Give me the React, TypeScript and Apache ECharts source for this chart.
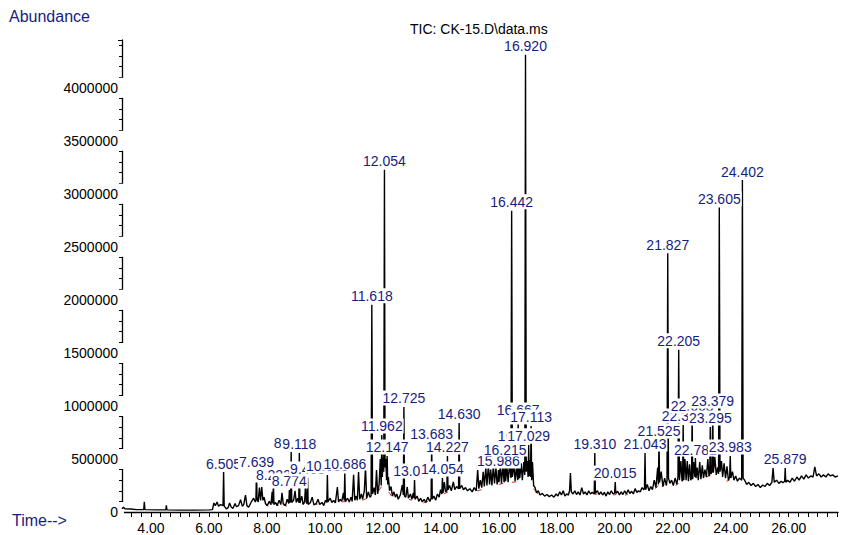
import { useEffect, useRef } from "react";
import * as echarts from "echarts";

// Retention times (min) of the integrated peaks and their apex abundance
const PEAK_TIMES = [
  6.505, 7.639, 8.223, 8.774, 8.836, 9.118, 9.403, 10.085, 10.686, 11.618,
  11.962, 12.054, 12.147, 12.725, 13.092, 13.683, 14.054, 14.227, 14.63,
  15.986, 16.215, 16.442, 16.667, 16.703, 16.92, 17.029, 17.113, 19.31,
  20.015, 21.043, 21.525, 21.827, 22.205, 22.359, 22.668, 22.781, 23.295,
  23.379, 23.605, 23.983, 24.402, 25.879,
];
const PEAK_HEIGHTS = [
  377000, 387000, 264000, 208000, 566000, 557000, 321000, 349000, 377000, 1953000,
  726000, 3226000, 528000, 991000, 302000, 651000, 321000, 528000, 840000,
  396000, 509000, 2840000, 877000, 632000, 4310000, 632000, 811000, 557000,
  283000, 557000, 679000, 2440000, 1530000, 821000, 915000, 509000, 802000,
  962000, 2870000, 528000, 3130000, 415000,
];
const PEAK_LABELS = PEAK_TIMES.map((t) => t.toFixed(3));

// Total ion current between the labelled apexes: [time (min), abundance]
const BASE_TRACE: [number, number][] = [
  [3.0, 30000], [3.05, 45000], [3.1, 30000], [3.3, 28000], [3.5, 22000], [3.75, 22000],
  [3.77, 95000], [3.79, 22000], [4.2, 20000], [4.51, 20000], [4.53, 62000], [4.55, 20000],
  [5.0, 18000], [5.5, 18000], [6.0, 20000], [6.12, 22000],
  [6.17, 85000], [6.22, 60000], [6.28, 95000], [6.33, 55000], [6.4, 70000], [6.485, 60000],
  [6.525, 55000], [6.6, 30000], [6.66, 40000], [6.71, 85000], [6.77, 45000], [6.83, 35000],
  [6.9, 80000], [6.95, 50000], [7.02, 60000], [7.09, 115000], [7.15, 55000], [7.2, 70000],
  [7.26, 160000], [7.31, 60000], [7.37, 45000], [7.45, 90000], [7.54, 130000], [7.6, 95000],
  [7.62, 110000], [7.66, 120000], [7.7, 95000], [7.74, 230000], [7.78, 110000], [7.82, 236000],
  [7.86, 110000], [7.9, 140000], [7.95, 80000], [8.01, 60000], [8.08, 100000], [8.14, 70000],
  [8.18, 190000], [8.203, 80000], [8.243, 70000], [8.3, 90000], [8.35, 60000], [8.42, 110000],
  [8.48, 70000], [8.52, 180000], [8.56, 80000], [8.64, 60000], [8.7, 120000], [8.754, 80000],
  [8.794, 90000], [8.816, 100000], [8.856, 90000], [8.92, 110000], [8.97, 200000], [9.01, 90000],
  [9.06, 130000], [9.098, 90000], [9.138, 85000], [9.2, 150000], [9.25, 70000], [9.3, 100000],
  [9.33, 250000], [9.36, 90000], [9.383, 80000], [9.423, 70000], [9.5, 90000], [9.56, 140000],
  [9.62, 70000], [9.7, 80000], [9.76, 120000], [9.82, 70000], [9.9, 90000], [9.96, 60000],
  [10.02, 110000], [10.065, 90000], [10.105, 95000], [10.18, 130000], [10.24, 90000],
  [10.3, 110000], [10.36, 85000], [10.43, 236000], [10.47, 95000], [10.53, 120000],
  [10.58, 100000], [10.64, 180000], [10.666, 110000], [10.706, 100000], [10.78, 130000],
  [10.84, 95000], [10.9, 140000], [10.94, 100000], [10.99, 350000], [11.03, 110000],
  [11.08, 150000], [11.12, 110000], [11.16, 377000], [11.2, 120000], [11.26, 170000],
  [11.3, 120000], [11.36, 200000], [11.4, 425000], [11.44, 130000], [11.5, 190000],
  [11.55, 140000], [11.593, 150000], [11.643, 170000], [11.7, 230000], [11.74, 160000],
  [11.78, 396000], [11.82, 170000], [11.87, 260000], [11.91, 500000], [11.942, 250000],
  [11.982, 330000], [12.0, 510000], [12.03, 380000], [12.075, 420000], [12.1, 500000],
  [12.127, 300000], [12.167, 260000], [12.19, 330000], [12.23, 200000], [12.28, 240000],
  [12.33, 150000], [12.38, 190000], [12.43, 140000], [12.48, 170000], [12.53, 120000],
  [12.6, 160000], [12.67, 255000], [12.705, 160000], [12.745, 150000], [12.79, 140000],
  [12.84, 236000], [12.88, 130000], [12.95, 170000], [13.0, 120000], [13.05, 180000],
  [13.072, 130000], [13.112, 120000], [13.18, 150000], [13.24, 100000], [13.3, 130000],
  [13.36, 95000], [13.42, 120000], [13.48, 90000], [13.55, 140000], [13.62, 100000],
  [13.663, 130000], [13.703, 120000], [13.76, 150000], [13.82, 110000], [13.88, 170000],
  [13.94, 140000], [13.99, 210000], [14.034, 170000], [14.074, 180000], [14.12, 283000],
  [14.16, 190000], [14.207, 200000], [14.247, 210000], [14.3, 250000], [14.36, 200000],
  [14.43, 283000], [14.48, 210000], [14.54, 240000], [14.61, 220000], [14.65, 220000],
  [14.72, 250000], [14.78, 210000], [14.85, 230000], [14.92, 200000], [15.0, 220000],
  [15.08, 190000], [15.15, 230000], [15.22, 200000], [15.27, 396000], [15.31, 220000],
  [15.36, 300000], [15.41, 230000], [15.46, 380000], [15.5, 240000], [15.55, 420000],
  [15.59, 250000], [15.64, 450000], [15.68, 260000], [15.72, 400000], [15.76, 250000],
  [15.81, 440000], [15.85, 270000], [15.9, 420000], [15.94, 260000], [15.966, 300000],
  [16.006, 280000], [16.05, 440000], [16.09, 270000], [16.14, 450000], [16.18, 280000],
  [16.195, 300000], [16.235, 290000], [16.28, 430000], [16.32, 280000], [16.37, 460000],
  [16.417, 320000], [16.467, 330000], [16.52, 450000], [16.56, 290000], [16.61, 430000],
  [16.647, 300000], [16.683, 310000], [16.723, 320000], [16.77, 460000], [16.81, 300000],
  [16.86, 470000], [16.895, 350000], [16.945, 380000], [16.98, 480000], [17.009, 330000],
  [17.05, 340000], [17.07, 490000], [17.093, 330000], [17.133, 300000], [17.16, 470000],
  [17.2, 250000], [17.25, 230000], [17.3, 180000], [17.36, 200000], [17.42, 160000],
  [17.5, 175000], [17.58, 150000], [17.66, 165000], [17.74, 145000], [17.82, 160000],
  [17.9, 140000], [17.98, 170000], [18.04, 150000], [18.1, 190000], [18.16, 160000],
  [18.22, 200000], [18.28, 150000], [18.34, 170000], [18.4, 160000], [18.44, 200000],
  [18.47, 368000], [18.5, 190000], [18.56, 170000], [18.62, 200000], [18.68, 165000],
  [18.74, 190000], [18.8, 160000], [18.86, 230000], [18.92, 170000], [18.98, 190000],
  [19.04, 160000], [19.1, 200000], [19.16, 170000], [19.22, 185000], [19.29, 170000],
  [19.33, 175000], [19.4, 200000], [19.46, 165000], [19.52, 190000], [19.58, 160000],
  [19.64, 185000], [19.7, 150000], [19.76, 190000], [19.82, 165000], [19.88, 200000],
  [19.94, 170000], [19.995, 180000], [20.035, 175000], [20.1, 195000], [20.16, 160000],
  [20.22, 190000], [20.28, 165000], [20.34, 200000], [20.4, 170000], [20.46, 210000],
  [20.52, 175000], [20.58, 195000], [20.64, 170000], [20.7, 220000], [20.76, 185000],
  [20.82, 200000], [20.88, 190000], [20.94, 230000], [21.0, 210000], [21.023, 220000],
  [21.063, 210000], [21.12, 260000], [21.18, 200000], [21.24, 240000], [21.3, 210000],
  [21.36, 300000], [21.42, 230000], [21.48, 420000], [21.505, 260000], [21.545, 280000],
  [21.6, 380000], [21.66, 240000], [21.72, 320000], [21.78, 250000], [21.802, 300000],
  [21.852, 320000], [21.9, 270000], [21.96, 300000], [22.02, 250000], [22.08, 320000],
  [22.14, 260000], [22.18, 330000], [22.23, 300000], [22.28, 480000], [22.32, 290000],
  [22.339, 300000], [22.379, 300000], [22.42, 500000], [22.46, 300000], [22.5, 480000],
  [22.54, 290000], [22.58, 450000], [22.62, 300000], [22.648, 320000], [22.688, 310000],
  [22.72, 470000], [22.761, 330000], [22.801, 320000], [22.84, 420000], [22.88, 300000],
  [22.93, 470000], [22.97, 310000], [23.02, 440000], [23.06, 320000], [23.11, 400000],
  [23.16, 330000], [23.21, 500000], [23.25, 340000], [23.275, 360000], [23.315, 360000],
  [23.359, 380000], [23.4, 370000], [23.45, 520000], [23.5, 350000], [23.55, 420000],
  [23.58, 360000], [23.63, 380000], [23.68, 480000], [23.72, 330000], [23.77, 460000],
  [23.82, 320000], [23.87, 430000], [23.92, 300000], [23.963, 330000], [24.003, 320000],
  [24.06, 380000], [24.11, 300000], [24.17, 340000], [24.23, 290000], [24.3, 320000],
  [24.377, 300000], [24.427, 320000], [24.48, 300000], [24.55, 260000], [24.62, 280000],
  [24.7, 250000], [24.78, 270000], [24.86, 240000], [24.94, 260000], [25.02, 230000],
  [25.1, 255000], [25.18, 240000], [25.26, 270000], [25.34, 250000], [25.42, 280000],
  [25.46, 415000], [25.5, 280000], [25.58, 300000], [25.66, 270000], [25.74, 290000],
  [25.8, 275000], [25.859, 290000], [25.899, 280000], [25.96, 300000], [26.04, 280000],
  [26.12, 320000], [26.2, 290000], [26.28, 330000], [26.36, 300000], [26.44, 340000],
  [26.52, 310000], [26.6, 350000], [26.68, 320000], [26.76, 340000], [26.84, 330000],
  [26.9, 425000], [26.96, 340000], [27.04, 360000], [27.12, 330000], [27.2, 350000],
  [27.28, 330000], [27.36, 360000], [27.44, 340000], [27.52, 350000], [27.6, 330000],
  [27.7, 340000],
];

// Integration baseline segments under the valleys: [start, v, end, v]
const BASELINE_SEGMENTS: [number, number, number, number][] = [
  [6.58, 30000, 6.66, 35000], [7.95, 70000, 8.05, 55000], [8.3, 80000, 8.4, 65000],
  [8.55, 70000, 8.68, 55000], [9.22, 80000, 9.32, 85000], [9.6, 65000, 9.75, 75000],
  [10.6, 95000, 10.75, 100000], [11.3, 110000, 11.45, 130000], [11.86, 200000, 11.95, 240000],
  [12.2, 190000, 12.3, 150000], [12.9, 120000, 13.0, 110000], [13.4, 85000, 13.55, 100000],
  [14.1, 170000, 14.25, 190000], [15.25, 200000, 15.4, 210000], [16.0, 260000, 16.15, 270000],
  [16.45, 280000, 16.6, 285000], [17.2, 220000, 17.35, 170000], [19.3, 165000, 19.4, 170000],
  [19.95, 160000, 20.05, 165000], [20.35, 160000, 20.45, 165000], [21.4, 220000, 21.5, 250000],
  [21.62, 240000, 21.72, 260000], [22.1, 250000, 22.2, 270000], [23.15, 330000, 23.3, 345000],
  [23.42, 420000, 23.5, 440000], [23.85, 290000, 23.95, 300000], [25.95, 290000, 26.02, 285000],
];

const X_TICK_LABELS = ["4.00", "6.00", "8.00", "10.00", "12.00", "14.00", "16.00", "18.00", "20.00", "22.00", "24.00", "26.00"];
const Y_TICK_LABELS = ["0", "500000", "1000000", "1500000", "2000000", "2500000", "3000000", "3500000", "4000000"];

const FONT = '"Liberation Sans", Arial, sans-serif';
const LABEL_BLUE = "#161d80";

export default function App() {
  const ref = useRef<HTMLDivElement>(null);

  useEffect(() => {
    if (!ref.current) return;
    const chart = echarts.init(ref.current, undefined, { renderer: "svg" });

    const trace = [
      ...BASE_TRACE,
      ...PEAK_TIMES.map((t, i) => [t, PEAK_HEIGHTS[i]] as [number, number]),
    ].sort((a, b) => a[0] - b[0]);

    const baseline: (number | string)[][] = [];
    BASELINE_SEGMENTS.forEach(([t0, v0, t1, v1]) => {
      baseline.push([t0, v0], [t1, v1], [t1, "-"]);
    });

    chart.setOption({
      animation: false,
      title: {
        text: "TIC: CK-15.D\\data.ms",
        left: 410,
        top: 22,
        padding: 0,
        textStyle: { fontFamily: FONT, fontSize: 14, fontWeight: "normal", color: "#000" },
      },
      graphic: [
        { type: "text", left: 9, top: 8, style: { text: "Abundance", fill: LABEL_BLUE, font: `16px ${FONT}` } },
        { type: "text", left: 12, top: 512, style: { text: "Time-->", fill: LABEL_BLUE, font: `16px ${FONT}` } },
      ],
      grid: { left: 122, right: 3, top: 40, bottom: 23, containLabel: false },
      xAxis: {
        type: "value",
        min: 3,
        max: 27.7,
        interval: 1 / 3,
        splitLine: { show: false },
        axisLine: { onZero: false, lineStyle: { color: "#000", width: 1.3 } },
        axisTick: { length: 5, lineStyle: { color: "#000", width: 1 } },
        axisLabel: {
          showMinLabel: false,
          showMaxLabel: false,
          margin: 9,
          color: "#000",
          fontFamily: FONT,
          fontSize: 14,
          formatter: (v: number) => {
            const hit = X_TICK_LABELS.find((s) => Math.abs(parseFloat(s) - v) < 1e-6);
            return hit ?? "";
          },
        },
      },
      yAxis: {
        type: "value",
        min: 0,
        max: 4450000,
        interval: 500000,
        splitLine: { show: false },
        axisLine: { lineStyle: { color: "#000", width: 1.3 } },
        axisTick: { length: 4, lineStyle: { color: "#000" } },
        minorTick: { show: true, splitNumber: 5, length: 3, lineStyle: { color: "#000" } },
        axisLabel: {
          showMaxLabel: false,
          margin: -2,
          padding: [3, 6, 3, 0],
          backgroundColor: "#fff",
          color: "#000",
          fontFamily: FONT,
          fontSize: 14,
          formatter: (v: number) => {
            const hit = Y_TICK_LABELS.find((s) => Math.abs(parseFloat(s) - v) < 1);
            return hit ?? "";
          },
        },
      },
      series: [
        {
          type: "line",
          data: baseline,
          showSymbol: false,
          symbol: "none",
          connectNulls: false,
          lineStyle: { color: "#e3261c", width: 1 },
          silent: true,
          z: 2,
        },
        {
          type: "line",
          data: trace,
          showSymbol: false,
          symbol: "none",
          lineStyle: { color: "#000", width: 1.4 },
          silent: true,
          z: 3,
        },
        {
          type: "scatter",
          data: PEAK_TIMES.map((t, i) => [t, PEAK_HEIGHTS[i]]),
          symbolSize: 1,
          itemStyle: { color: "rgba(0,0,0,0)", opacity: 1 },
          silent: true,
          z: 5,
          label: {
            show: true,
            position: "top",
            distance: 1,
            formatter: (p: any) => PEAK_LABELS[p.dataIndex],
            color: LABEL_BLUE,
            fontFamily: FONT,
            fontSize: 14,
            backgroundColor: "#fff",
            padding: [1, 1, 0, 1],
          },
        },
      ],
    });

    return () => chart.dispose();
  }, []);

  return (
    <div
      ref={ref}
      style={{ position: "fixed", left: 0, top: 0, width: 841, height: 535, background: "#fff" }}
    />
  );
}
